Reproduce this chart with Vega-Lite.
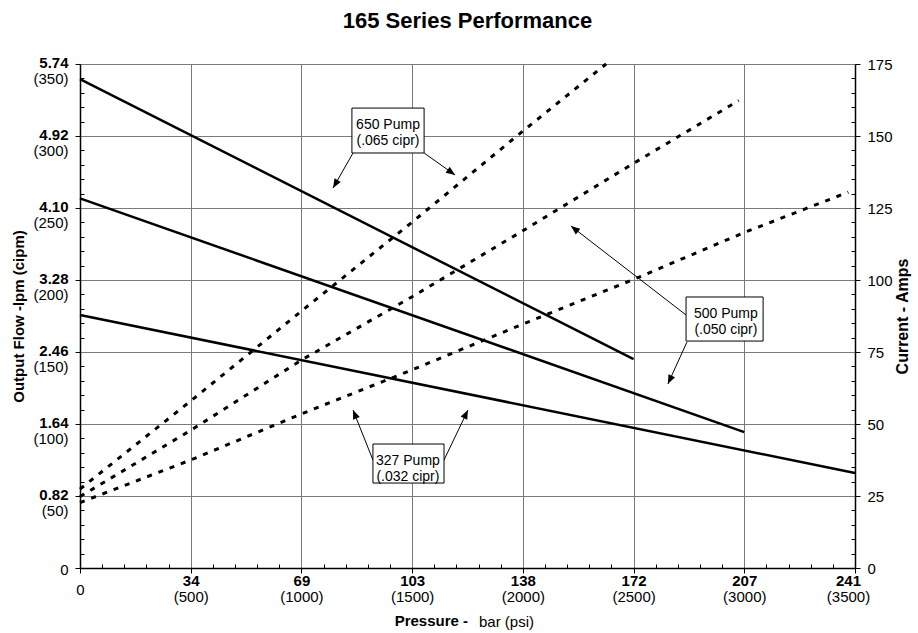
{
  "$schema": "https://vega.github.io/schema/vega-lite/v6.json",
  "width": 775,
  "height": 504,
  "autosize": {"type": "none"},
  "padding": {"left": 80, "top": 64, "right": 63, "bottom": 65},
  "background": "white",
  "title": {
    "text": "165 Series Performance",
    "font": "Liberation Sans",
    "fontSize": 22,
    "fontWeight": "bold",
    "color": "black",
    "anchor": "middle",
    "frame": "group",
    "offset": 22
  },
  "config": {
    "view": {"stroke": null},
    "font": "Liberation Sans",
    "axis": {
      "labelFont": "Liberation Sans",
      "titleFont": "Liberation Sans",
      "labelColor": "black",
      "titleColor": "black",
      "domainColor": "black",
      "tickColor": "black",
      "labelFontSize": 15,
      "titleFontSize": 15,
      "labelFlush": false
    }
  },
  "datasets": {
    "flow": [
      {"pump": "650", "psi": 0, "cipm": 339.5},
      {"pump": "650", "psi": 2500, "cipm": 145},
      {"pump": "500", "psi": 0, "cipm": 256.7},
      {"pump": "500", "psi": 3000, "cipm": 94.4},
      {"pump": "327", "psi": 0, "cipm": 175.7},
      {"pump": "327", "psi": 3500, "cipm": 66}
    ],
    "amps": [
      {"pump": "650", "psi": 0, "amps": 27.4},
      {"pump": "650", "psi": 500, "amps": 58.0},
      {"pump": "650", "psi": 1000, "amps": 89.2},
      {"pump": "650", "psi": 1500, "amps": 120.1},
      {"pump": "650", "psi": 2000, "amps": 151.7},
      {"pump": "650", "psi": 2376, "amps": 175},
      {"pump": "500", "psi": 0, "amps": 24.8},
      {"pump": "500", "psi": 500, "amps": 47.8},
      {"pump": "500", "psi": 1000, "amps": 72.2},
      {"pump": "500", "psi": 1500, "amps": 94.2},
      {"pump": "500", "psi": 2000, "amps": 117.1},
      {"pump": "500", "psi": 2500, "amps": 140.5},
      {"pump": "500", "psi": 2975, "amps": 162.3},
      {"pump": "327", "psi": 0, "amps": 22.7},
      {"pump": "327", "psi": 500, "amps": 37.5},
      {"pump": "327", "psi": 1000, "amps": 53.5},
      {"pump": "327", "psi": 1500, "amps": 68.8},
      {"pump": "327", "psi": 2000, "amps": 84.7},
      {"pump": "327", "psi": 2500, "amps": 100.2},
      {"pump": "327", "psi": 3000, "amps": 116.5},
      {"pump": "327", "psi": 3470, "amps": 130.5}
    ],
    "boxes": [
      {"pump": "650", "x1": 1228, "x2": 1554, "y1": 288.2, "y2": 319.4, "cx": 1391, "cy": 307.6, "lines": ["650 Pump", "(.065 cipr)"]},
      {"pump": "500", "x1": 2737, "x2": 3085, "y1": 157.6, "y2": 188.2, "cx": 2917, "cy": 176.7, "lines": ["500 Pump", "(.050 cipr)"]},
      {"pump": "327", "x1": 1323, "x2": 1644, "y1": 59.0, "y2": 86.1, "cx": 1481, "cy": 74.3, "lines": ["327 Pump", "(.032 cipr)"]}
    ],
    "arrows": [
      {"pump": "650", "sx": 1233, "sy": 288.2, "tx": 1143, "ty": 263.9, "angle": 210},
      {"pump": "650", "sx": 1554, "sy": 288.2, "tx": 1694, "ty": 272.9, "angle": 125},
      {"pump": "500", "sx": 2737, "sy": 175.7, "tx": 2217, "ty": 237.5, "angle": 308},
      {"pump": "500", "sx": 2741, "sy": 156.9, "tx": 2655, "ty": 127.8, "angle": 205},
      {"pump": "327", "sx": 1323, "sy": 75, "tx": 1233, "ty": 109.7, "angle": 338},
      {"pump": "327", "sx": 1644, "sy": 75, "tx": 1752, "ty": 109.7, "angle": 26}
    ]
  },
  "resolve": {
    "scale": {"y": "independent"},
    "axis": {"x": "independent", "y": "independent"}
  },
  "layer": [
    {
      "data": {"name": "flow"},
      "mark": {"type": "line", "color": "black", "strokeWidth": 2.5},
      "encoding": {
        "detail": {"field": "pump"},
        "x": {
          "field": "psi", "type": "quantitative",
          "scale": {"domain": [0, 3500], "nice": false},
          "axis": {
            "orient": "bottom",
            "values": [0, 500, 1000, 1500, 2000, 2500, 3000, 3500],
            "labelExpr": "datum.value == 0 ? '0' : format(datum.value / 14.5038, '.0f')",
            "labelFontWeight": {"condition": {"test": "datum.value == 0", "value": "normal"}, "value": "bold"},
            "labelBaseline": "alphabetic",
            "labelPadding": {"condition": {"test": "datum.value == 0", "value": 21}, "value": 12},
            "labelOffset": {"condition": {"test": "datum.value == 3500", "value": -7}, "value": 0},
            "tickSize": 5,
            "domainWidth": 1.5,
            "grid": true,
            "gridColor": "#7a7a7a",
            "gridWidth": 1,
            "title": "Pressure -",
            "titleFontWeight": "bold",
            "titleAlign": "right",
            "titlePadding": 16
          }
        },
        "y": {
          "field": "cipm", "type": "quantitative",
          "scale": {"domain": [0, 350], "nice": false},
          "axis": {
            "orient": "left",
            "values": [0, 50, 100, 150, 200, 250, 300, 350],
            "labelExpr": "datum.value == 0 ? '0' : format(datum.value * 0.016387, '.2f')",
            "labelFontWeight": {"condition": {"test": "datum.value == 0", "value": "normal"}, "value": "bold"},
            "labelBaseline": "middle",
            "labelOffset": {"condition": {"test": "datum.value == 0", "value": 1}, "value": -2},
            "labelPadding": 7,
            "tickSize": 5,
            "domainWidth": 1.5,
            "grid": true,
            "gridColor": "#7a7a7a",
            "gridWidth": 1,
            "title": "Output Flow -lpm (cipm)",
            "titleFontWeight": "bold",
            "titlePadding": 12
          }
        }
      }
    },
    {
      "data": {"name": "flow"},
      "mark": {"type": "point", "opacity": 0},
      "encoding": {
        "x": {
          "field": "psi", "type": "quantitative",
          "scale": {"domain": [0, 3500], "nice": false},
          "axis": {
            "orient": "bottom",
            "values": [0, 500, 1000, 1500, 2000, 2500, 3000, 3500],
            "labelExpr": "datum.value == 0 ? '' : '(' + datum.value + ')'",
            "labelBaseline": "alphabetic",
            "labelPadding": 33,
            "labelOffset": {"condition": {"test": "datum.value == 3500", "value": -7}, "value": 0},
            "ticks": false,
            "tickSize": 0,
            "domain": false,
            "grid": false,
            "title": "\u2800bar (psi)",
            "titleFontWeight": "normal",
            "titleAlign": "left",
            "titlePadding": 10
          }
        },
        "y": {
          "field": "cipm", "type": "quantitative",
          "scale": {"domain": [0, 350], "nice": false},
          "axis": {
            "orient": "left",
            "values": [50, 100, 150, 200, 250, 300, 350],
            "labelExpr": "'(' + datum.value + ')'",
            "labelBaseline": "middle",
            "labelOffset": 14,
            "labelPadding": 12,
            "ticks": false,
            "tickSize": 0,
            "domain": false,
            "grid": false,
            "title": null
          }
        }
      }
    },
    {
      "data": {"name": "flow"},
      "mark": {"type": "point", "opacity": 0},
      "encoding": {
        "x": {
          "field": "psi", "type": "quantitative",
          "scale": {"domain": [0, 3500], "nice": false},
          "axis": {
            "orient": "bottom",
            "values": [100, 200, 300, 400, 600, 700, 800, 900, 1100, 1200, 1300, 1400, 1600, 1700, 1800, 1900, 2100, 2200, 2300, 2400, 2600, 2700, 2800, 2900, 3100, 3200, 3300, 3400],
            "labels": false,
            "tickSize": -4,
            "domain": false,
            "grid": false,
            "title": null
          }
        },
        "y": {
          "field": "cipm", "type": "quantitative",
          "scale": {"domain": [0, 350], "nice": false},
          "axis": {
            "orient": "left",
            "values": [10, 20, 30, 40, 60, 70, 80, 90, 110, 120, 130, 140, 160, 170, 180, 190, 210, 220, 230, 240, 260, 270, 280, 290, 310, 320, 330, 340],
            "labels": false,
            "tickSize": -4,
            "domain": false,
            "grid": false,
            "title": null
          }
        }
      }
    },
    {
      "data": {"name": "amps"},
      "mark": {"type": "line", "color": "black", "strokeWidth": 3, "strokeDash": [5, 7]},
      "encoding": {
        "detail": {"field": "pump"},
        "x": {"field": "psi", "type": "quantitative", "scale": {"domain": [0, 3500], "nice": false}, "axis": null},
        "y": {
          "field": "amps", "type": "quantitative",
          "scale": {"domain": [0, 175], "nice": false},
          "axis": {
            "orient": "right",
            "values": [0, 25, 50, 75, 100, 125, 150, 175],
            "labelBaseline": "middle",
            "labelPadding": 7,
            "tickSize": 5,
            "domainWidth": 1.5,
            "grid": false,
            "title": "Current - Amps",
            "titleFontWeight": "bold",
            "titleFontSize": 16,
            "titleAngle": 270,
            "titlePadding": 18
          }
        }
      }
    },
    {
      "data": {"name": "amps"},
      "mark": {"type": "point", "opacity": 0},
      "encoding": {
        "x": {"field": "psi", "type": "quantitative", "scale": {"domain": [0, 3500], "nice": false}, "axis": null},
        "y": {
          "field": "amps", "type": "quantitative",
          "scale": {"domain": [0, 175], "nice": false},
          "axis": {
            "orient": "right",
            "values": [5, 10, 15, 20, 30, 35, 40, 45, 55, 60, 65, 70, 80, 85, 90, 95, 105, 110, 115, 120, 130, 135, 140, 145, 155, 160, 165, 170],
            "labels": false,
            "tickSize": -4,
            "domain": false,
            "grid": false,
            "title": null
          }
        }
      }
    },
    {
      "data": {"name": "arrows"},
      "mark": {"type": "rule", "color": "black", "strokeWidth": 1},
      "encoding": {
        "x": {"field": "sx", "type": "quantitative", "scale": {"domain": [0, 3500], "nice": false}, "axis": null},
        "y": {"field": "sy", "type": "quantitative", "scale": {"domain": [0, 350], "nice": false}, "axis": null},
        "x2": {"field": "tx"},
        "y2": {"field": "ty"}
      }
    },
    {
      "data": {"name": "arrows"},
      "mark": {"type": "point", "shape": "M0,0L-0.4,1L0.4,1Z", "filled": true, "color": "black", "opacity": 1, "size": 330, "strokeWidth": 0},
      "encoding": {
        "x": {"field": "tx", "type": "quantitative", "scale": {"domain": [0, 3500], "nice": false}, "axis": null},
        "y": {"field": "ty", "type": "quantitative", "scale": {"domain": [0, 350], "nice": false}, "axis": null},
        "angle": {"field": "angle", "type": "quantitative", "scale": null}
      }
    },
    {
      "data": {"name": "boxes"},
      "mark": {"type": "rect", "fill": "white", "stroke": "black", "strokeWidth": 1},
      "encoding": {
        "x": {"field": "x1", "type": "quantitative", "scale": {"domain": [0, 3500], "nice": false}, "axis": null},
        "x2": {"field": "x2"},
        "y": {"field": "y1", "type": "quantitative", "scale": {"domain": [0, 350], "nice": false}, "axis": null},
        "y2": {"field": "y2"}
      }
    },
    {
      "data": {"name": "boxes"},
      "mark": {"type": "text", "font": "Liberation Sans", "fontSize": 14, "lineHeight": 16, "align": "center", "baseline": "middle", "color": "black"},
      "encoding": {
        "x": {"field": "cx", "type": "quantitative", "scale": {"domain": [0, 3500], "nice": false}, "axis": null},
        "y": {"field": "cy", "type": "quantitative", "scale": {"domain": [0, 350], "nice": false}, "axis": null},
        "text": {"field": "lines"}
      }
    }
  ]
}
